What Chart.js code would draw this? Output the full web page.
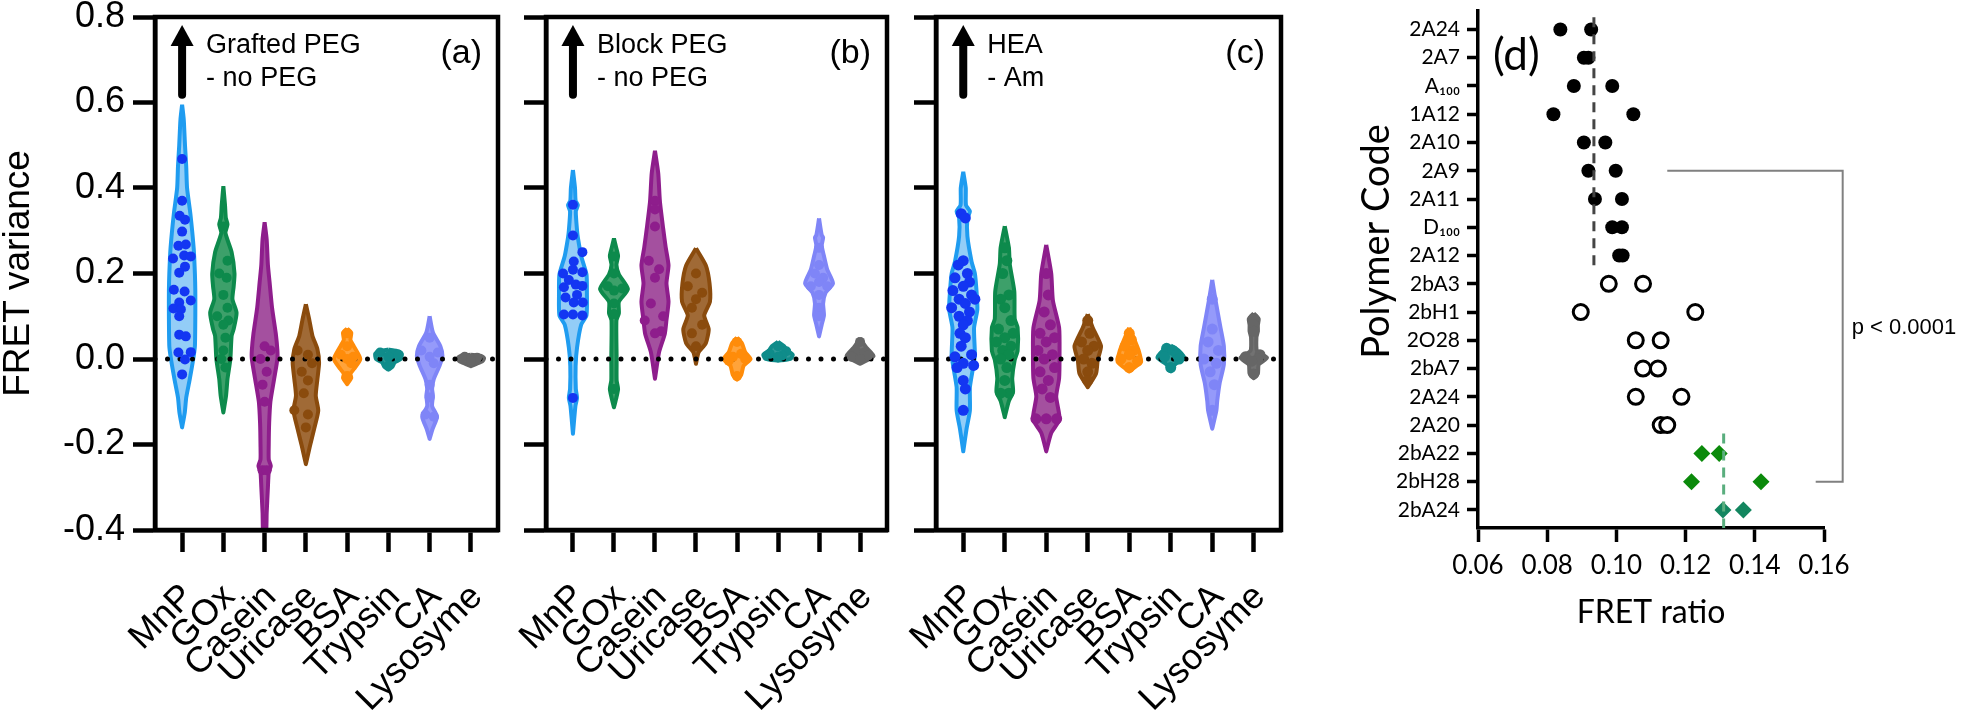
<!DOCTYPE html>
<html>
<head>
<meta charset="utf-8">
<script src="https://cdn.jsdelivr.net/npm/chart.js@4.4.1/dist/chart.umd.min.js"></script>
<style>
  body { margin: 0; background: #fff; width: 1963px; height: 719px; overflow: hidden; position: relative; }
  .panel { position: absolute; top: 0; height: 719px; }
</style>
</head>
<body>
<div class="panel" style="left:0;width:520px"><canvas id="chartA"></canvas></div>
<div class="panel" style="left:470px;width:439px"><canvas id="chartB"></canvas></div>
<div class="panel" style="left:859px;width:444px"><canvas id="chartC"></canvas></div>
<div class="panel" style="left:1330px;width:633px"><canvas id="chartD"></canvas></div>
<script>
// categorias dos paineis (a)-(c)
const categories = ['MnP', 'GOx', 'Casein', 'Uricase', 'BSA', 'Trypsin', 'CA', 'Lysosyme'];
const yTicks = [-0.4, -0.2, 0.0, 0.2, 0.4, 0.6, 0.8];

// cores por proteina
const violinColors = ['#1f9cf0', '#0d8a4c', '#8e1d8c', '#8a4b0d', '#ff8c0a', '#0f8c8a', '#7f85f7', '#666666'];
const violinFills = ['#93cdf7', '#3da06a', '#a4509f', '#a06a36', '#ffa33a', '#2f9a98', '#959afa', '#727272'];
const pointColors = ['#1336f2', '#0d8a4c', '#8e1d8c', '#8a4b0d', '#ff8c0a', '#0f8c8a', '#7f85f7', '#666666'];

// perfis dos violinos: [FRET variance, meia largura]
const violinA = [
  [[0.595,0],[0.56,0.04],[0.50,0.07],[0.45,0.10],[0.40,0.12],[0.34,0.20],[0.26,0.28],[0.20,0.31],[0.16,0.32],[0.10,0.32],[0.03,0.31],[0.0,0.27],[-0.05,0.18],[-0.09,0.10],[-0.125,0.065],[-0.16,0]],
  [[0.404,0],[0.36,0.04],[0.33,0.06],[0.315,0.10],[0.295,0.05],[0.25,0.20],[0.20,0.27],[0.17,0.25],[0.14,0.22],[0.108,0.32],[0.07,0.25],[0.054,0.20],[0.0,0.17],[-0.047,0.10],[-0.086,0.065],[-0.125,0]],
  [[0.32,0],[0.28,0.05],[0.22,0.08],[0.18,0.12],[0.12,0.18],[0.06,0.27],[0.02,0.31],[0.0,0.31],[-0.047,0.23],[-0.10,0.14],[-0.15,0.11],[-0.20,0.10],[-0.235,0.10],[-0.25,0.15],[-0.265,0.10],[-0.30,0.08],[-0.36,0.05],[-0.40,0.04],[-0.42,0]],
  [[0.128,0],[0.093,0.08],[0.054,0.16],[0.023,0.28],[-0.009,0.32],[-0.047,0.28],[-0.086,0.24],[-0.121,0.30],[-0.164,0.20],[-0.203,0.10],[-0.246,0]],
  [[0.071,0],[0.062,0.10],[0.045,0.08],[0.03,0.16],[0.0,0.32],[-0.024,0.16],[-0.035,0.08],[-0.044,0.10],[-0.059,0]],
  [[0.022,0],[0.018,0.25],[0.012,0.32],[0.0,0.30],[-0.008,0.15],[-0.018,0.10],[-0.025,0]],
  [[0.10,0],[0.062,0.08],[0.03,0.26],[0.007,0.31],[-0.016,0.24],[-0.047,0.10],[-0.07,0.06],[-0.086,0.08],[-0.11,0.06],[-0.135,0.18],[-0.164,0.07],[-0.187,0]],
  [[0.01,0],[0.007,0.25],[0.002,0.32],[-0.005,0.28],[-0.012,0.12],[-0.017,0]]
];
const violinB = [
  [[0.442,0],[0.40,0.05],[0.37,0.065],[0.36,0.12],[0.345,0.07],[0.30,0.10],[0.284,0.12],[0.241,0.20],[0.198,0.33],[0.155,0.34],[0.102,0.33],[0.08,0.20],[0.027,0.10],[-0.016,0.065],[-0.07,0.07],[-0.091,0.10],[-0.11,0.06],[-0.175,0]],
  [[0.282,0],[0.262,0.05],[0.241,0.10],[0.22,0.06],[0.198,0.12],[0.164,0.34],[0.134,0.12],[0.107,0.12],[0.09,0.06],[0.0,0.065],[-0.05,0.065],[-0.07,0.10],[-0.09,0.06],[-0.113,0]],
  [[0.487,0],[0.434,0.08],[0.369,0.12],[0.305,0.20],[0.262,0.26],[0.219,0.33],[0.177,0.28],[0.134,0.33],[0.091,0.28],[0.059,0.24],[0.016,0.10],[-0.046,0]],
  [[0.259,0],[0.219,0.24],[0.177,0.33],[0.134,0.34],[0.102,0.20],[0.07,0.31],[0.037,0.24],[0.016,0.065],[-0.011,0]],
  [[0.05,0],[0.037,0.12],[0.016,0.20],[0.0,0.33],[-0.016,0.16],[-0.038,0.10],[-0.048,0]],
  [[0.04,0],[0.03,0.15],[0.02,0.22],[0.01,0.36],[0.0,0.30],[-0.004,0]],
  [[0.329,0],[0.29,0.065],[0.284,0.10],[0.265,0.065],[0.241,0.12],[0.209,0.20],[0.177,0.34],[0.155,0.16],[0.13,0.10],[0.102,0.12],[0.08,0.065],[0.053,0]],
  [[0.048,0],[0.027,0.15],[0.007,0.33],[-0.011,0]]
];
const violinC = [
  [[0.438,0],[0.40,0.06],[0.36,0.065],[0.345,0.16],[0.33,0.10],[0.287,0.10],[0.228,0.20],[0.20,0.28],[0.158,0.32],[0.116,0.34],[0.073,0.26],[0.009,0.28],[-0.018,0.24],[-0.066,0.16],[-0.12,0.16],[-0.163,0.08],[-0.216,0]],
  [[0.311,0],[0.26,0.10],[0.222,0.12],[0.158,0.23],[0.094,0.24],[0.073,0.31],[0.019,0.31],[-0.002,0.24],[-0.045,0.18],[-0.077,0.20],[-0.098,0.10],[-0.136,0]],
  [[0.267,0],[0.20,0.12],[0.137,0.16],[0.073,0.31],[0.009,0.32],[-0.045,0.31],[-0.088,0.24],[-0.141,0.32],[-0.173,0.12],[-0.216,0]],
  [[0.105,0],[0.073,0.12],[0.03,0.32],[-0.002,0.24],[-0.034,0.20],[-0.066,0]],
  [[0.073,0],[0.051,0.10],[0.019,0.23],[-0.007,0.28],[-0.029,0]],
  [[0.032,0],[0.019,0.20],[0.003,0.32],[-0.013,0.10],[-0.029,0]],
  [[0.185,0],[0.137,0.08],[0.073,0.20],[0.03,0.28],[-0.013,0.28],[-0.056,0.18],[-0.098,0.12],[-0.12,0.10],[-0.163,0]],
  [[0.107,0],[0.094,0.12],[0.08,0.10],[0.065,0.10],[0.051,0.065],[0.019,0.08],[0.003,0.32],[-0.013,0.12],[-0.034,0.10],[-0.045,0]]
];

// pontos individuais: [FRET variance, deslocamento horizontal]
const pointsA = [
  [[0.468,0],[0.370,0],[0.335,-0.06],[0.326,0.07],[0.298,0],[0.265,-0.09],[0.268,0.09],[0.235,-0.22],[0.242,0.05],[0.240,0.21],[0.216,0.07],[0.202,-0.07],[0.162,-0.20],[0.158,0.06],[0.132,-0.07],[0.137,0.21],[0.118,-0.21],[0.116,-0.03],[0.100,-0.07],[0.057,-0.07],[0.053,0.09],[0.015,-0.09],[0.016,0.21],[-0.001,0.07],[-0.036,0]],
  [[0.31,0],[0.23,0.10],[0.20,-0.10],[0.19,0.08],[0.15,0],[0.12,0.10],[0.10,-0.15],[0.09,0.12],[0.08,0],[0.05,0.05],[0.02,0],[0.0,-0.05],[-0.02,0.05]],
  [[0.03,0],[0.02,0.15],[0.0,-0.10],[-0.03,0.05],[-0.06,-0.05],[-0.10,0],[-0.26,-0.05],[-0.26,0.05]],
  [[0.02,-0.20],[0.01,0.05],[-0.01,0.15],[-0.03,-0.10],[-0.05,0.05],[-0.08,-0.05],[-0.12,-0.28],[-0.13,0.05],[-0.16,0]],
  [[0.06,0],[0.03,0],[0.01,-0.15],[0.005,0.15],[0.0,0],[-0.01,0.10],[-0.04,0]],
  [[0.015,-0.20],[0.012,0.10],[0.01,0.25],[0.005,0],[-0.015,0]],
  [[0.05,0],[0.02,-0.20],[0.015,0.20],[0.005,0],[-0.01,0.10],[-0.06,0],[-0.09,0],[-0.13,-0.10],[-0.135,0.10]],
  [[0.005,-0.15],[0.003,0.15],[0.0,0],[-0.006,0]]
];
const pointsB = [
  [[0.361,0],[0.289,0],[0.25,0.23],[0.228,0.02],[0.20,-0.24],[0.209,0],[0.203,0.23],[0.168,-0.22],[0.174,0.07],[0.171,0.23],[0.144,-0.18],[0.132,0.02],[0.132,0.24],[0.104,-0.22],[0.104,0],[0.102,0.23],[0.185,-0.10],[0.15,0.10],[-0.091,0]],
  [[0.24,0],[0.20,0],[0.17,-0.15],[0.165,0.20],[0.16,0],[0.13,0],[0.105,0],[-0.07,0]],
  [[0.37,0],[0.31,0],[0.35,0],[0.23,-0.15],[0.21,0.10],[0.19,0],[0.13,-0.10],[0.10,0.20],[0.09,-0.25],[0.065,0.15],[0.06,0]],
  [[0.20,0],[0.17,-0.20],[0.155,0.15],[0.14,0],[0.12,-0.10],[0.08,0.15],[0.06,-0.10],[0.03,0]],
  [[0.04,0],[0.012,0.10],[0.005,-0.10],[0.0,0.20],[-0.004,-0.20],[-0.04,0]],
  [[0.03,0],[0.018,0.20],[0.012,-0.20],[0.008,0.10],[0.005,0]],
  [[0.26,0],[0.22,0],[0.20,-0.10],[0.19,0.10],[0.18,0],[0.17,-0.20],[0.17,0.20],[0.15,0],[0.12,0],[0.10,0]],
  [[0.04,0],[0.02,-0.10],[0.015,0.10],[0.008,0.20],[0.005,-0.20],[0.0,0]]
];
const pointsC = [
  [[0.34,-0.05],[0.33,0.05],[0.23,0],[0.22,-0.12],[0.20,0.10],[0.19,-0.20],[0.18,0.15],[0.17,0],[0.16,-0.25],[0.15,0.20],[0.14,-0.10],[0.14,0.28],[0.13,0.05],[0.12,-0.28],[0.11,0.15],[0.10,-0.10],[0.09,0.10],[0.08,0],[0.06,-0.08],[0.05,0.05],[0.03,-0.05],[0.01,0.20],[0.005,-0.20],[-0.01,0],[-0.015,0.25],[-0.02,-0.15],[-0.05,0],[-0.07,0.05],[-0.12,0]],
  [[0.26,0],[0.23,0.05],[0.20,-0.05],[0.15,0.10],[0.14,-0.10],[0.12,0],[0.09,0.15],[0.07,-0.15],[0.06,0.20],[0.05,0],[0.04,-0.20],[0.03,0.15],[0.02,-0.05],[0.01,0.10],[0.0,-0.10],[-0.02,0.05],[-0.05,0],[-0.08,0.10],[-0.08,-0.10]],
  [[0.20,0],[0.15,0.05],[0.11,-0.05],[0.08,0.10],[0.06,-0.15],[0.05,0.20],[0.04,0],[0.02,-0.20],[0.01,0.15],[0.0,-0.05],[-0.02,0.20],[-0.03,-0.15],[-0.05,0.05],[-0.07,-0.10],[-0.09,0.10],[-0.14,-0.25],[-0.14,0.25],[-0.14,0]],
  [[0.09,0],[0.06,0.05],[0.04,-0.15],[0.03,0.15],[0.02,0],[0.0,-0.10],[-0.01,0.10],[-0.03,0],[-0.05,0]],
  [[0.06,0],[0.045,0.05],[0.03,-0.10],[0.02,0.10],[0.01,0],[0.0,-0.20],[-0.005,0.20],[-0.02,0]],
  [[0.025,-0.10],[0.02,0.05],[0.01,0.15],[0.005,-0.15],[0.0,0.20],[-0.02,0]],
  [[0.14,0],[0.07,0],[0.04,-0.10],[0.02,0.15],[0.0,-0.20],[-0.01,0.10],[-0.03,-0.05],[-0.06,0.05],[-0.12,0]],
  [[0.095,0],[0.08,0],[0.065,0],[0.01,0.15],[0.005,-0.20],[0.0,0.10],[-0.005,-0.05],[-0.035,0]]
];

// painel (d)
const polymerCodes = ['2A24', '2A7', 'A\u2081\u2080\u2080', '1A12', '2A10', '2A9', '2A11', 'D\u2081\u2080\u2080', '2A12',
  '2bA3', '2bH1', '2O28', '2bA7', '2A24', '2A20', '2bA22', '2bH28', '2bA24'];
const ratioRep1 = [0.0838, 0.0906, 0.0877, 0.0818, 0.0906, 0.0919, 0.0938, 0.0988, 0.1008,
  0.0978, 0.0897, 0.1056, 0.1077, 0.1056, 0.1128, 0.1247, 0.1217, 0.1308];
const ratioRep2 = [0.0927, 0.0919, 0.0988, 0.1049, 0.0968, 0.0998, 0.1016, 0.1016, 0.1018,
  0.1077, 0.1228, 0.1128, 0.1120, 0.1188, 0.1147, 0.1297, 0.1418, 0.1367];
const groupOf = [0,0,0,0,0,0,0,0,0, 1,1,1,1,1,1, 2,2,2];
const meanGroup0 = 0.0935;
const meanGroup2 = 0.131;
const xTicksD = [0.06, 0.08, 0.10, 0.12, 0.14, 0.16];

Chart.defaults.font.family = 'Liberation Sans, Arial, sans-serif';
Chart.defaults.color = '#000';

const X_MIN = -0.657, X_MAX = 7.657;

// desenha moldura, seta, textos e rotulo do painel
const panelDecor = {
    id: 'panelDecor',
    afterDraw(chart, args, o) {
        const { ctx, chartArea: a, scales } = chart;
        ctx.save();
        ctx.fillStyle = '#000';
        ctx.strokeStyle = '#000';
        if (o.box) {
            ctx.lineWidth = 4.5;
            ctx.strokeRect(a.left, a.top, a.right - a.left, a.bottom - a.top);
        }
        if (o.arrow) {
            const x = scales.x.getPixelForValue(0);
            const yb = scales.y.getPixelForValue(0.618);
            const yt = scales.y.getPixelForValue(0.781);
            ctx.lineWidth = 8;
            ctx.lineCap = 'round';
            ctx.beginPath();
            ctx.moveTo(x, yb);
            ctx.lineTo(x, yt + 16);
            ctx.stroke();
            ctx.beginPath();
            ctx.moveTo(x, yt);
            ctx.lineTo(x + 11.5, yt + 21);
            ctx.lineTo(x - 11.5, yt + 21);
            ctx.closePath();
            ctx.fill();
            ctx.font = '27px "Liberation Sans", Arial, sans-serif';
            ctx.textAlign = 'left';
            ctx.textBaseline = 'alphabetic';
            ctx.fillText(o.arrow.lines[0], x + 24, scales.y.getPixelForValue(0.716));
            ctx.fillText(o.arrow.lines[1], x + 24, scales.y.getPixelForValue(0.639));
        }
        if (o.tag) {
            ctx.font = '34px "Liberation Sans", Arial, sans-serif';
            ctx.textAlign = 'right';
            ctx.textBaseline = 'middle';
            ctx.fillText(o.tag, a.right - 16, scales.y.getPixelForValue(0.714));
        }
        if (o.texts) {
            o.texts.forEach(t => {
                ctx.font = t.font;
                ctx.textAlign = 'left';
                ctx.textBaseline = 'middle';
                ctx.fillText(t.text, scales.x.getPixelForValue(t.x) + (t.dx || 0), scales.y.getPixelForValue(t.y));
            });
        }
        if (o.yTitle) {
            // titulo do eixo y deslocado para cima, como no original
            ctx.font = o.yTitle.font;
            ctx.textAlign = 'center';
            ctx.textBaseline = 'middle';
            ctx.translate(a.left - o.yTitle.offset, scales.y.getPixelForValue(o.yTitle.y));
            ctx.rotate(-Math.PI / 2);
            ctx.fillText(o.yTitle.text, 0, 0);
        }
        ctx.restore();
    }
};

function violinDatasets(profiles) {
    return profiles.map((prof, i) => {
        const right = prof.map(p => ({ x: i + p[1], y: p[0] }));
        const left = prof.slice().reverse().map(p => ({ x: i - p[1], y: p[0] }));
        return {
            data: right.concat(left),
            showLine: true,
            fill: 'shape',
            borderColor: violinColors[i],
            backgroundColor: violinFills[i],
            borderWidth: 4,
            borderJoinStyle: 'round',
            tension: 0.2,
            pointRadius: 0,
            order: 2
        };
    });
}

function pointDataset(points, radius) {
    const data = [];
    const cores = [];
    points.forEach((lista, i) => lista.forEach(p => {
        data.push({ x: i + p[1], y: p[0] });
        cores.push(pointColors[i]);
    }));
    return { data, pointRadius: radius, pointBackgroundColor: cores, pointBorderWidth: 0, showLine: false, order: 0 };
}

function violinChart(id, profiles, points, opts) {
    return new Chart(document.getElementById(id), {
        type: 'scatter',
        data: {
            datasets: [
                ...violinDatasets(profiles),
                {
                    data: [{ x: X_MIN, y: 0 }, { x: X_MAX, y: 0 }],
                    showLine: true, borderColor: '#000', borderWidth: 5,
                    borderDash: [0, 12.5], borderCapStyle: 'round', pointRadius: 0, order: 1
                },
                pointDataset(points, opts.radius)
            ]
        },
        options: {
            responsive: true,
            maintainAspectRatio: false,
            animation: false,
            events: [],
            layout: { padding: { top: 17, right: 22, bottom: 0, left: 0 } },
            plugins: {
                legend: { display: false },
                tooltip: { enabled: false },
                panelDecor: { box: true, arrow: { lines: opts.lines }, tag: opts.tag }
            },
            scales: {
                x: {
                    type: 'linear',
                    min: X_MIN,
                    max: X_MAX,
                    afterFit: s => { s.height = 189; s.paddingLeft = 0; s.paddingRight = 0; },
                    border: { color: '#000', width: 4.5 },
                    grid: { drawOnChartArea: false, drawTicks: true, tickLength: 22, tickWidth: 4.5, tickColor: '#000' },
                    ticks: {
                        stepSize: 1, includeBounds: false, autoSkip: false,
                        maxRotation: 45, minRotation: 45, padding: 24, labelOffset: 6,
                        font: { size: 36 },
                        callback: v => Number.isInteger(v) ? categories[v] : ''
                    }
                },
                y: {
                    min: yTicks[0],
                    max: yTicks[yTicks.length - 1],
                    afterFit: s => { s.width = opts.yWidth; s.paddingTop = 0; s.paddingBottom = 0; },
                    border: { color: '#000', width: 4.5 },
                    grid: { drawOnChartArea: false, drawTicks: true, tickLength: 22, tickWidth: 4.5, tickColor: '#000' },
                    ticks: {
                        stepSize: 0.2, display: opts.labels, padding: 8,
                        font: { size: 36 },
                        callback: v => v.toFixed(1)
                    },
                    title: {
                        display: opts.labels, text: 'FRET variance', padding: 0,
                        font: { size: 37, lineHeight: 1 }
                    }
                }
            }
        },
        plugins: [panelDecor]
    });
}

violinChart('chartA', violinA, pointsA, { yWidth: 155, labels: true, lines: ['Grafted PEG', '- no PEG'], tag: '(a)', radius: 5 });
violinChart('chartB', violinB, pointsB, { yWidth: 76, labels: false, lines: ['Block PEG', '- no PEG'], tag: '(b)', radius: 5 });
violinChart('chartC', violinC, pointsC, { yWidth: 77, labels: false, lines: ['HEA', '- Am'], tag: '(c)', radius: 5.5 });

// painel (d): razao FRET por polimero
const grupos = [[], [], []];
const coresDiamante = [];
groupOf.forEach((g, i) => {
    grupos[g].push({ x: ratioRep1[i], y: i }, { x: ratioRep2[i], y: i });
    if (g === 2) {
        const c = polymerCodes[i] === '2bA24' ? '#13865f' : '#0b8a0b';
        coresDiamante.push(c, c);
    }
});

new Chart(document.getElementById('chartD'), {
    type: 'scatter',
    data: {
        datasets: [
            { data: grupos[0], pointRadius: 7, pointBackgroundColor: '#000', pointBorderWidth: 0, order: 1 },
            { data: grupos[1], pointRadius: 7.5, pointBackgroundColor: '#fff', pointBorderColor: '#000', pointBorderWidth: 3, order: 1 },
            { data: grupos[2], pointStyle: 'rectRot', pointRadius: 8.5, pointBackgroundColor: coresDiamante, pointBorderWidth: 0, order: 1 },
            {
                data: [{ x: meanGroup0, y: -0.43 }, { x: meanGroup0, y: 8.46 }],
                showLine: true, borderColor: '#444', borderWidth: 3, borderDash: [10, 7], pointRadius: 0, order: 0
            },
            {
                data: [{ x: meanGroup2, y: 14.3 }, { x: meanGroup2, y: 17.64 }],
                showLine: true, borderColor: '#5aae7e', borderWidth: 3, borderDash: [10, 7], pointRadius: 0, order: 0
            },
            {
                data: [{ x: 0.1147, y: 5 }, { x: 0.1654, y: 5 }, { x: 0.1654, y: 16 }, { x: 0.1576, y: 16 }],
                showLine: true, borderColor: '#808080', borderWidth: 2, pointRadius: 0, clip: false, order: 0
            }
        ]
    },
    options: {
        responsive: true,
        maintainAspectRatio: false,
        animation: false,
        events: [],
        layout: { padding: { top: 10, right: 139, bottom: 90, left: 0 } },
        plugins: {
            legend: { display: false },
            tooltip: { enabled: false },
            panelDecor: {
                texts: [
                    { text: '(d)', x: 0.0643, y: 0.95, font: '44px Lato, sans-serif' },
                    { text: 'p < 0.0001', x: 0.1654, dx: 9, y: 10.57, font: '22px "Liberation Sans", Arial, sans-serif' }
                ],
                yTitle: { text: 'Polymer Code', offset: 101, y: 7.5, font: '38px Lato, sans-serif' }
            }
        },
        scales: {
            x: {
                min: xTicksD[0],
                max: xTicksD[xTicksD.length - 1],
                afterFit: s => { s.height = 101; s.paddingLeft = 0; s.paddingRight = 0; },
                border: { color: '#000', width: 3.5 },
                grid: { drawOnChartArea: false, tickLength: 14, tickWidth: 3.5, tickColor: '#000' },
                ticks: { stepSize: 0.02, padding: 8, font: { family: 'Lato', size: 26 }, callback: v => v.toFixed(2) },
                title: { display: true, text: 'FRET ratio', padding: 0, font: { family: 'Lato', size: 32, lineHeight: 1 } }
            },
            y: {
                reverse: true,
                min: -0.67,
                max: 17.64,
                afterFit: s => { s.width = 148; s.paddingTop = 0; s.paddingBottom = 0; },
                border: { color: '#000', width: 3.5 },
                grid: { drawOnChartArea: false, tickLength: 11, tickWidth: 3.5, tickColor: '#000' },
                ticks: {
                    stepSize: 1, includeBounds: false, autoSkip: false, padding: 7,
                    font: { family: 'Lato', size: 21 },
                    callback: v => Number.isInteger(v) ? polymerCodes[v] : ''
                }
            }
        }
    },
    plugins: [panelDecor]
});
</script>
</body>
</html>
